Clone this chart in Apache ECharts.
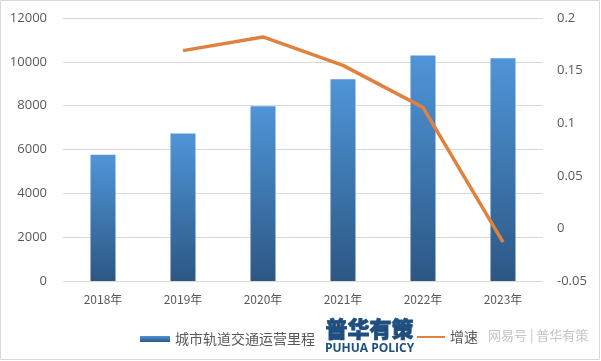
<!DOCTYPE html>
<html><head><meta charset="utf-8">
<script src="https://cdn.jsdelivr.net/npm/echarts@6/dist/echarts.min.js"></script>
<style>html,body{margin:0;padding:0;background:#fff}#c{width:601px;height:361px}</style>
</head><body><div id="c"></div>
<script>
const categories = ['2018年','2019年','2020年','2021年','2022年','2023年'];
const mileage = [5761, 6730, 7978, 9206, 10287, 10165];
const growth = [null, 0.169, 0.182, 0.155, 0.115, -0.013];
const leftTicks = {min:0, max:12000, interval:2000};
const rightTicks = {min:-0.05, max:0.2, interval:0.05};

const chart = echarts.init(document.getElementById('c'));
const font = '"Noto Sans CJK SC", "Noto Sans", sans-serif';
const barGrad = new echarts.graphic.LinearGradient(0,0,0,1,[
  {offset:0,color:'#4F95D8'},{offset:1,color:'#2C5784'}]);
chart.setOption({
  animation:false,
  textStyle:{fontFamily:font},
  grid:{left:63,right:58,top:18,bottom:80},
  legend:[
    {left:135,top:327,itemWidth:30,itemHeight:6,itemGap:5,
     textStyle:{fontSize:14,color:'#595959',fontFamily:font},
     data:[{name:'城市轨道交通运营里程',icon:'rect'}]},
    {left:412,top:325,itemWidth:28,itemHeight:14,
     textStyle:{fontSize:14,color:'#595959',fontFamily:font},
     data:[{name:'增速',icon:'path://M0,6 L28,6 L28,8 L0,8 Z'}]}
  ],
  xAxis:{type:'category',data:categories,
    axisLine:{show:false},axisTick:{show:false},
    axisLabel:{color:'#595959',fontSize:12,margin:12,fontFamily:font}},
  yAxis:[
    {type:'value',min:leftTicks.min,max:leftTicks.max,interval:leftTicks.interval,
     axisLabel:{color:'#595959',fontSize:13,margin:16,fontFamily:'"Open Sans", sans-serif',
       formatter:v=>String(v)},
     splitLine:{lineStyle:{color:'#d9d9d9'}},axisLine:{show:false},axisTick:{show:false}},
    {type:'value',min:rightTicks.min,max:rightTicks.max,interval:rightTicks.interval,
     position:'right',
     axisLabel:{color:'#595959',fontSize:13,margin:14,fontFamily:'"Open Sans", sans-serif',
       formatter:v=>String(Math.round(v*100)/100)},
     splitLine:{show:false},axisLine:{show:false},axisTick:{show:false}}
  ],
  series:[
    {name:'城市轨道交通运营里程',type:'bar',data:mileage,barWidth:25,
     itemStyle:{color:barGrad}},
    {name:'增速',type:'line',yAxisIndex:1,data:growth,showSymbol:false,symbol:'none',
     lineStyle:{width:3.5,color:'#DF823F'},itemStyle:{color:'#DF823F'}}
  ],
  graphic:[
    {type:'rect',shape:{x:0.5,y:0.5,width:599,height:359},
     style:{fill:'none',stroke:'#d9d9d9',lineWidth:1},silent:true},
    {type:'text',left:325,top:317,style:{text:'普华有策',font:'900 22px '+font,fill:'#1E4F7E',stroke:'#1E4F7E',lineWidth:0.8}},
    {type:'text',left:325,top:343,style:{text:'PUHUA POLICY',font:'bold 12px "Open Sans", sans-serif',fill:'#1E4F7E'}},
    {type:'text',left:488,top:329,style:{text:'网易号 | 普华有策',font:'13px '+font,fill:'#c4c4c4'}}
  ]
});
</script></body></html>
